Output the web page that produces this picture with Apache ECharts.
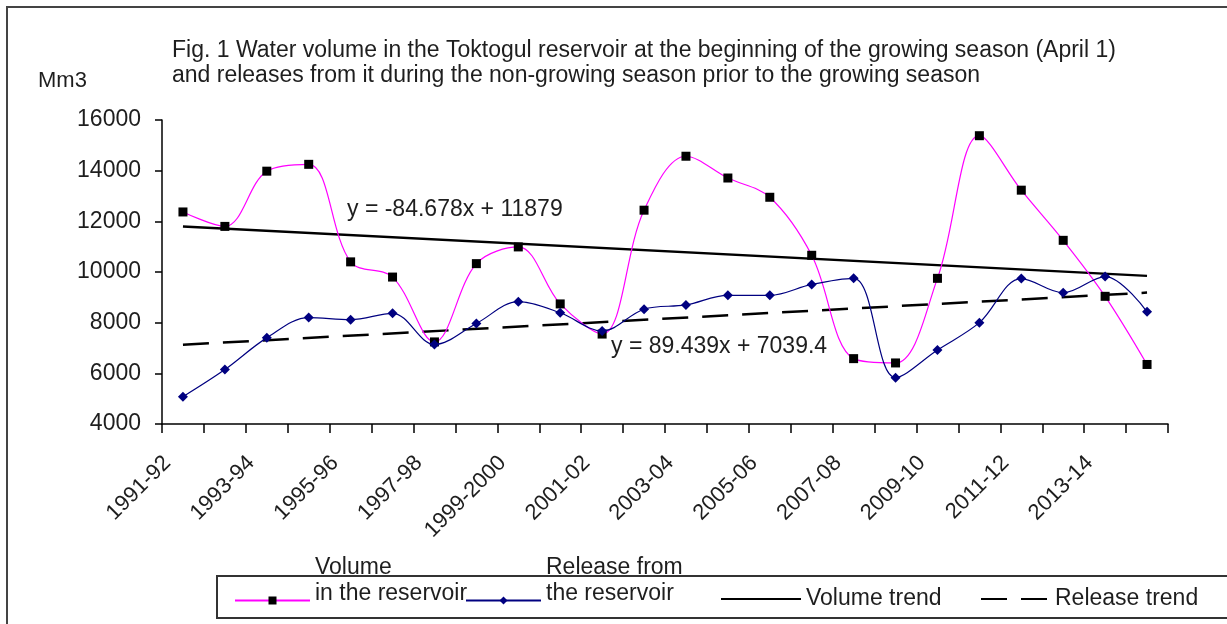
<!DOCTYPE html>
<html>
<head>
<meta charset="utf-8">
<script src="https://cdn.jsdelivr.net/npm/echarts@6/dist/echarts.min.js"></script>
<style>
html,body{margin:0;padding:0;background:#fff;}
#main{width:1227px;height:624px;}
</style>
</head>
<body>
<div id="main"></div>
<script>
// ---- data ----
const categories = ['1991-92','1992-93','1993-94','1994-95','1995-96','1996-97','1997-98','1998-99',
  '1999-2000','2000-01','2001-02','2002-03','2003-04','2004-05','2005-06','2006-07','2007-08',
  '2008-09','2009-10','2010-11','2011-12','2012-13','2013-14','2014-15'];
const volume = [12370, 11800, 13980, 14250, 10400, 9800, 7240, 10330, 10990, 8740, 7550, 12440,
  14570, 13710, 12950, 10660, 6580, 6410, 9750, 15380, 13230, 11250, 9040, 6350];
const release = [5080, 6150, 7400, 8200, 8120, 8370, 7140, 7970, 8830, 8390, 7670, 8530,
  8700, 9080, 9080, 9510, 9750, 5830, 6920, 8000, 9740, 9180, 9820, 8430];
const volumeTrendEnds = [11794, 9847];
const releaseTrendEnds = [7129, 9186];
const yTicks = {min: 4000, max: 16000, interval: 2000};
const titleText = 'Fig. 1 Water volume in the Toktogul reservoir at the beginning of the growing season (April 1)\nand releases from it during the non-growing season prior to the growing season';
const unitText = 'Mm3';
const volumeEq = 'y = -84.678x + 11879';
const releaseEq = 'y = 89.439x + 7039.4';
const seriesNames = ['Volume in the reservoir', 'Release from the reservoir', 'Volume trend', 'Release trend'];
const legendLines = {
  'Volume in the reservoir': ['Volume', 'in the reservoir'],
  'Release from the reservoir': ['Release from', 'the reservoir'],
  'Volume trend': ['Volume trend'],
  'Release trend': ['Release trend']
};

function trendSeries(ends) {
  const arr = categories.map(() => null);
  arr[0] = ends[0];
  arr[arr.length - 1] = ends[1];
  return arr;
}

const FONT = "'Liberation Sans', Arial, sans-serif";
const TXT = '#1e1e1e';

const chart = echarts.init(document.getElementById('main'), null, {renderer: 'canvas'});

const twoLineText = {
  fontFamily: FONT, fontSize: 23, color: TXT,
  rich: {
    a: {fontFamily: FONT, fontSize: 23, color: TXT, lineHeight: 26},
    s: {fontSize: 10, lineHeight: 40}
  }
};
const twoLineFmt = n => '{a|' + legendLines[n][0] + '}\n{a|' + legendLines[n][1] + '}\n{s| }';
const oneLineText = {fontFamily: FONT, fontSize: 23, color: TXT, lineHeight: 26};

chart.setOption({
  backgroundColor: '#fff',
  animation: false,
  title: {
    text: titleText,
    left: 167, top: 33,
    textStyle: {fontFamily: FONT, fontSize: 23, fontWeight: 'normal', color: TXT, lineHeight: 25}
  },
  grid: {left: 162, right: 59, top: 120, bottom: 200},
  xAxis: {
    type: 'category',
    data: categories,
    boundaryGap: true,
    axisLine: {lineStyle: {color: '#000', width: 1.5}},
    axisTick: {show: true, interval: 0, length: 9, lineStyle: {color: '#000', width: 1.5}},
    axisLabel: {interval: 1, rotate: 45, margin: 20, padding: [0, 22, 0, 0],
      fontFamily: FONT, fontSize: 22, color: TXT},
    splitLine: {show: false}
  },
  yAxis: {
    type: 'value',
    min: yTicks.min, max: yTicks.max, interval: yTicks.interval,
    axisLine: {show: true, lineStyle: {color: '#000', width: 1.5}},
    axisTick: {show: true, length: 7, lineStyle: {color: '#000', width: 1.5}},
    axisLabel: {margin: 21, fontFamily: FONT, fontSize: 23, color: TXT, formatter: v => String(v)},
    splitLine: {show: false}
  },
  legend: [
    {data: [seriesNames[0]], left: 229, top: 551, itemWidth: 75, itemHeight: 10, itemGap: 0,
     formatter: twoLineFmt, textStyle: twoLineText, selectedMode: false},
    {data: [seriesNames[1]], left: 460, top: 551, itemWidth: 75, itemHeight: 10, itemGap: 0,
     formatter: twoLineFmt, textStyle: twoLineText, selectedMode: false},
    {data: [seriesNames[2]], left: 715, top: 581, itemWidth: 80, itemHeight: 10, itemGap: 0,
     formatter: n => legendLines[n][0], textStyle: oneLineText, selectedMode: false,
     itemStyle: {opacity: 0}},
    {data: [seriesNames[3]], left: 975, top: 581, itemWidth: 69, itemHeight: 10, itemGap: 0,
     formatter: n => legendLines[n][0], textStyle: oneLineText, selectedMode: false,
     itemStyle: {opacity: 0}}
  ],
  graphic: [
    {type: 'rect', silent: true, shape: {x: 7, y: 7, width: 1400, height: 800},
     style: {fill: 'none', stroke: '#444', lineWidth: 2}},
    {type: 'rect', silent: true, shape: {x: 217, y: 576, width: 1200, height: 42},
     style: {fill: 'none', stroke: '#333', lineWidth: 2}},
    {type: 'text', silent: true, left: 38, top: 70,
     style: {text: unitText, fontFamily: FONT, fontSize: 22, fill: TXT}},
    {type: 'text', silent: true, left: 347, top: 198,
     style: {text: volumeEq, fontFamily: FONT, fontSize: 23, fill: TXT}},
    {type: 'text', silent: true, left: 611, top: 335,
     style: {text: releaseEq, fontFamily: FONT, fontSize: 23, fill: TXT}}
  ],
  series: [
    {
      name: seriesNames[2], type: 'line', data: trendSeries(volumeTrendEnds), connectNulls: true,
      symbol: 'none', z: 1,
      lineStyle: {color: '#000', width: 2.5, type: 'solid'}, itemStyle: {color: '#000'}
    },
    {
      name: seriesNames[3], type: 'line', data: trendSeries(releaseTrendEnds), connectNulls: true,
      symbol: 'none', z: 1,
      lineStyle: {color: '#000', width: 2.5, type: [26, 14]}, itemStyle: {color: '#000'}
    },
    {
      name: seriesNames[0], type: 'line', data: volume, smooth: 0.35,
      symbol: 'rect', symbolSize: 9, z: 3,
      lineStyle: {color: '#ff00ff', width: 1.2}, itemStyle: {color: '#000'}
    },
    {
      name: seriesNames[1], type: 'line', data: release, smooth: 0.35,
      symbol: 'diamond', symbolSize: 10, z: 4,
      lineStyle: {color: '#000080', width: 1.2}, itemStyle: {color: '#000080'}
    }
  ]
});
</script>
</body>
</html>
